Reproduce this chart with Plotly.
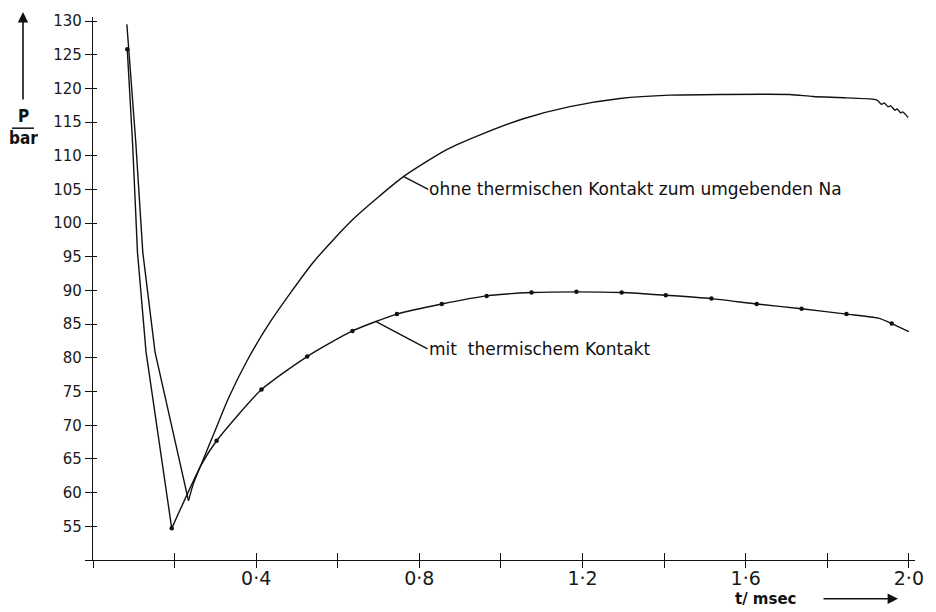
import plotly.graph_objects as go

# Pressure history P(t) for two cases, time in msec, pressure in bar
ohne_t = [0.083, 0.105, 0.122, 0.152, 0.234, 0.246, 0.266, 0.300, 0.332, 0.377,
          0.434, 0.540, 0.638, 0.761, 0.867, 0.949, 1.055, 1.169, 1.292, 1.414,
          1.537, 1.708, 1.765, 1.847, 1.921, 1.933, 1.940, 1.949, 1.955, 1.966,
          1.971, 1.980, 1.985, 1.998]
ohne_p = [129.5, 111.9, 95.7, 80.9, 58.8, 61.3, 64.3, 69.3, 74.0, 79.5,
          85.3, 94.2, 100.6, 106.9, 110.9, 113.1, 115.5, 117.3, 118.5, 119.0,
          119.1, 119.1, 118.8, 118.6, 118.3, 117.65, 117.85, 117.26, 117.45, 116.76,
          116.96, 116.37, 116.52, 115.68]

mit_t = [0.084, 0.097, 0.109, 0.130, 0.193, 0.266, 0.303, 0.413, 0.525, 0.636,
         0.745, 0.855, 0.965, 1.075, 1.185, 1.296, 1.404, 1.516, 1.627, 1.737,
         1.847, 1.925, 1.958, 2.000]
mit_p = [125.8, 111.9, 95.7, 80.9, 54.7, 64.2, 67.7, 75.3, 80.2, 84.0,
         86.5, 88.0, 89.2, 89.7, 89.8, 89.7, 89.3, 88.8, 88.0, 87.3,
         86.5, 85.9, 85.1, 83.9]

# time steps marked with a dot on the "mit" curve
mit_dot_t = [0.084, 0.193, 0.303, 0.413, 0.525, 0.636, 0.745, 0.855, 0.965,
             1.075, 1.185, 1.296, 1.404, 1.516, 1.627, 1.737, 1.847, 1.958]

x_ticks = [round(0.2 * i, 1) for i in range(11)]
x_labels = {0.4: "0·4", 0.8: "0·8", 1.2: "1·2", 1.6: "1·6", 2.0: "2·0"}
y_ticks = list(range(50, 131, 5))

lookup = dict(zip(mit_t, mit_p))
mit_dot_p = [lookup[t] for t in mit_dot_t]

INK = "#111111"
LINE_W = 1.4

fig = go.Figure()

def add_curve(t, p):
    # steep pressure drop drawn straight, recovery branch smoothed
    i = p.index(min(p))
    fig.add_trace(go.Scatter(x=t[:i + 1], y=p[:i + 1], mode="lines",
                             line=dict(color=INK, width=LINE_W),
                             hoverinfo="skip", showlegend=False))
    fig.add_trace(go.Scatter(x=t[i:], y=p[i:], mode="lines",
                             line=dict(color=INK, width=LINE_W, shape="spline",
                                       smoothing=0.6),
                             hoverinfo="skip", showlegend=False))

add_curve(ohne_t, ohne_p)
add_curve(mit_t, mit_p)

fig.add_trace(go.Scatter(x=mit_dot_t, y=mit_dot_p, mode="markers",
                         xaxis="x2", yaxis="y2",
                         marker=dict(color=INK, size=4.5, symbol="circle"),
                         hoverinfo="skip", showlegend=False))

XR = [0, 2.015]
YR = [50, 130.6]
tick_font_x = dict(family="DejaVu Sans, sans-serif", size=19, color="#1a1a1a")
tick_font_y = dict(family="DejaVu Sans, sans-serif", size=15, color="#1a1a1a")

fig.update_layout(
    width=936, height=612,
    margin=dict(l=93, r=21, t=13, b=52),
    paper_bgcolor="white", plot_bgcolor="white",
    xaxis=dict(range=XR, showgrid=False, zeroline=False, showline=True,
               linecolor=INK, linewidth=1.4, ticks="inside", ticklen=7,
               tickwidth=1.4, tickcolor=INK, tickmode="array",
               tickvals=x_ticks, ticktext=[x_labels.get(v, "") for v in x_ticks],
               tickfont=tick_font_x, ticklabelstandoff=1),
    xaxis2=dict(range=XR, overlaying="x", anchor="y2", side="bottom",
                showgrid=False, zeroline=False, showline=False,
                ticks="outside", ticklen=7, tickwidth=1.4, tickcolor=INK,
                tickmode="array", tickvals=x_ticks, showticklabels=False),
    yaxis=dict(range=YR, showgrid=False, zeroline=False, showline=True,
               linecolor=INK, linewidth=1.4, ticks="outside", ticklen=7,
               tickwidth=1.4, tickcolor=INK, tickmode="array",
               tickvals=y_ticks,
               ticktext=["" if v == 50 else str(v) for v in y_ticks],
               tickfont=tick_font_y),
    yaxis2=dict(range=YR, overlaying="y", anchor="x2", side="left",
                showgrid=False, zeroline=False, showline=False,
                ticks="inside", ticklen=4, tickwidth=1.4, tickcolor=INK,
                tickmode="array", tickvals=y_ticks, showticklabels=False),
)

# pixel -> paper helpers for the frame decorations
PL, PR, PT, PB = 93, 915, 13, 560
def px(xp):
    return (xp - PL) / (PR - PL)
def py(yp):
    return (PB - yp) / (PB - PT)

text_font = dict(family="DejaVu Sans, sans-serif", size=17, color=INK)
label_font = dict(family="Liberation Sans Narrow, DejaVu Sans Condensed, sans-serif",
                  size=17, color=INK)

annotations = [
    # curve labels with leader lines
    dict(x=0.7605, y=106.95, xref="x", yref="y", ax=25, ay=13,
         text="ohne thermischen Kontakt zum umgebenden Na", showarrow=True,
         arrowhead=0, arrowwidth=1.4, arrowcolor=INK, xanchor="left",
         yanchor="middle", font=text_font, standoff=0, borderpad=0),
    dict(x=0.695, y=85.35, xref="x", yref="y", ax=51, ay=27,
         text="mit\u00a0\u00a0thermischem Kontakt", showarrow=True,
         arrowhead=0, arrowwidth=1.4, arrowcolor=INK, xanchor="left",
         yanchor="middle", font=text_font, standoff=0, borderpad=0),
    # axis titles
    dict(x=px(23), y=py(113), xref="paper", yref="paper", text="<b>P</b>",
         showarrow=False, font=label_font, xanchor="center", yanchor="middle"),
    dict(x=px(23), y=py(135), xref="paper", yref="paper", text="<b>bar</b>",
         showarrow=False, font=label_font, xanchor="center", yanchor="middle"),
    dict(x=px(766), y=py(599), xref="paper", yref="paper", text="<b>t/ msec</b>",
         showarrow=False, font=dict(family="DejaVu Sans, sans-serif", size=15, color=INK),
         xanchor="center", yanchor="middle"),
    # direction arrows
    dict(x=px(23), y=py(8), xref="paper", yref="paper", ax=0, ay=89, text="",
         showarrow=True, arrowhead=2, arrowsize=1.3, arrowwidth=1.6, arrowcolor=INK),
    dict(x=px(898), y=py(599), xref="paper", yref="paper", ax=-76, ay=0, text="",
         showarrow=True, arrowhead=2, arrowsize=1.3, arrowwidth=1.6, arrowcolor=INK),
]
fig.update_layout(annotations=annotations)

# fraction bar between P and bar
fig.add_shape(type="line", xref="paper", yref="paper",
              x0=px(12), x1=px(34), y0=py(125), y1=py(125),
              line=dict(color=INK, width=1.5))

fig.write_html("out.html")
